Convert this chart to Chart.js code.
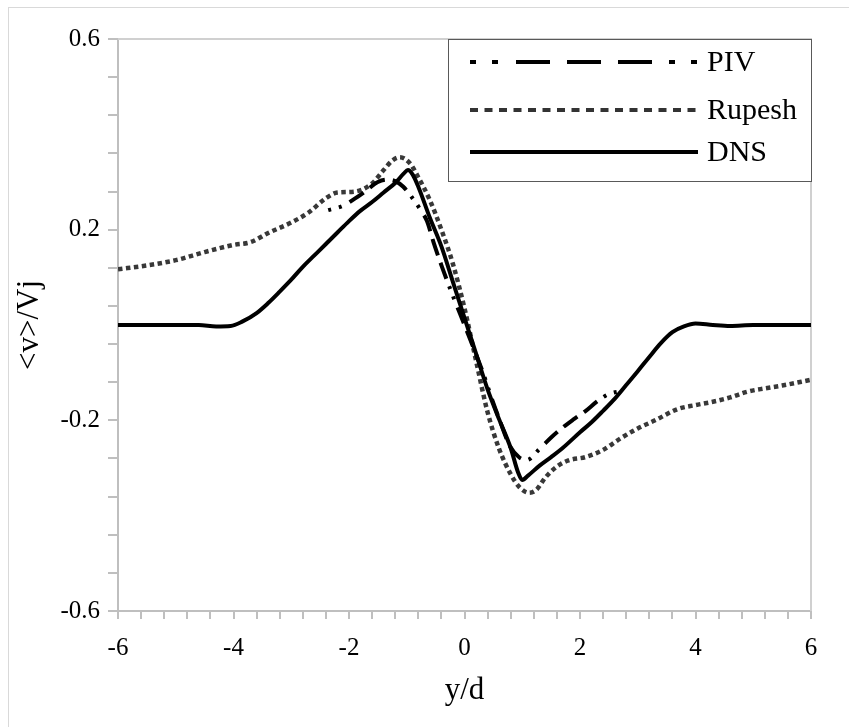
<!DOCTYPE html>
<html>
<head>
<meta charset="utf-8">
<script src="https://cdn.jsdelivr.net/npm/chart.js@4/dist/chart.umd.min.js"></script>
<style>
html, body { margin: 0; padding: 0; background: #fff; }
#wrap { width: 849px; height: 727px; }
</style>
</head>
<body>
<div id="wrap"><canvas id="profileChart" width="849" height="727"></canvas></div>
<script>
// values
const dnsX = [-6, -5, -4.6, -4.3, -4.05, -3.85, -3.6, -3.4, -3.2, -3.0, -2.8, -2.6, -2.4, -2.2, -2.0, -1.8, -1.6, -1.4, -1.2, -1.05,
    -0.98, -0.9, -0.8, -0.6, -0.4, -0.2, 0, 0.2, 0.4, 0.6, 0.8, 0.93, 1.0, 1.1, 1.3, 1.5, 1.7, 2.0, 2.2, 2.4,
    2.6, 2.8, 3.0, 3.2, 3.4, 3.6, 3.8, 4.0, 4.3, 4.6, 5, 6];
const dnsY = [0, 0, 0, -0.003, -0.002, 0.007, 0.025, 0.046, 0.07, 0.095, 0.122, 0.146, 0.17, 0.194, 0.218, 0.24, 0.258, 0.278, 0.298, 0.318,
    0.325, 0.316, 0.29, 0.225, 0.165, 0.09, 0.015, -0.06, -0.135, -0.198, -0.258, -0.31, -0.325, -0.316, -0.295, -0.277, -0.258, -0.225, -0.204, -0.18,
    -0.155, -0.126, -0.097, -0.067, -0.038, -0.015, -0.003, 0.003, 0, -0.002, 0, 0];

const rupeshX = [-6, -5.5, -5, -4.5, -4, -3.7, -3.4, -3, -2.7, -2.4, -2.2, -1.9, -1.6, -1.4, -1.25, -1.12, -0.95, -0.8, -0.6, -0.4,
    -0.2, 0, 0.2, 0.4, 0.6, 0.8, 0.95, 1.12, 1.25, 1.4, 1.6, 1.8, 2.1, 2.4, 2.7, 3, 3.3, 3.7, 4, 4.3,
    4.6, 4.9, 5.2, 5.5, 6];
const rupeshY = [0.117, 0.125, 0.136, 0.153, 0.168, 0.174, 0.193, 0.215, 0.236, 0.266, 0.278, 0.28, 0.297, 0.325, 0.345, 0.352, 0.34, 0.31, 0.262, 0.2,
    0.128, 0.035, -0.075, -0.183, -0.26, -0.313, -0.34, -0.352, -0.345, -0.32, -0.297, -0.284, -0.277, -0.262, -0.238, -0.217, -0.2, -0.176, -0.168, -0.161,
    -0.152, -0.14, -0.133, -0.127, -0.115];

const pivX = [-2.36, -2.1, -1.9, -1.7, -1.5, -1.34, -1.2, -1.06, -0.9, -0.77, -0.65, -0.54, -0.39, -0.22, 0,
    0.15, 0.32, 0.48, 0.61, 0.79, 0.95, 1.08, 1.3, 1.5, 1.7, 1.9, 2.1, 2.3, 2.5, 2.74];
const pivY = [0.241, 0.25, 0.265, 0.282, 0.3, 0.305, 0.302, 0.29, 0.266, 0.243, 0.218, 0.175, 0.122, 0.067, 0,
    -0.046, -0.1, -0.157, -0.2, -0.255, -0.278, -0.283, -0.26, -0.236, -0.215, -0.197, -0.18, -0.16, -0.145, -0.138];

const xMajorTicks = [-6, -4, -2, 0, 2, 4, 6];
const yMajorTicks = [-0.6, -0.2, 0.2, 0.6];

const axisGray = '#bfbfbf';
const serif = 'Liberation Serif';

const toPoints = (xs, ys) => xs.map((x, i) => ({ x: x, y: ys[i] }));

// 5 minor steps between each pair of major ticks
function minorTicks(majors) {
    const out = [];
    for (let i = 0; i < majors.length - 1; i++) {
        const step = (majors[i + 1] - majors[i]) / 5;
        for (let k = 0; k < 5; k++) out.push({ value: majors[i] + k * step, major: k === 0 });
    }
    out.push({ value: majors[majors.length - 1], major: true });
    return out;
}

const legendItems = [
    { label: 'PIV', dash: [6, 16, 6, 18, 34, 17, 34, 17, 34, 17], color: '#000', width: 4 },
    { label: 'Rupesh', dash: [8, 6.5], color: '#333', width: 4 },
    { label: 'DNS', dash: [], color: '#000', width: 4 }
];

const framePlugin = {
    id: 'frame',
    beforeDraw(chart) {
        const ctx = chart.ctx;
        ctx.save();
        ctx.fillStyle = '#fff';
        ctx.fillRect(0, 0, chart.width, chart.height);
        ctx.strokeStyle = '#d9d9d9';
        ctx.lineWidth = 1;
        ctx.strokeRect(8.5, 7.5, 900, 800);
        ctx.restore();
    },
    beforeDatasetsDraw(chart) {
        const { left, top, right, bottom } = chart.chartArea;
        const ctx = chart.ctx;
        ctx.save();
        ctx.strokeStyle = '#d0d0d0';
        ctx.lineWidth = 2;
        ctx.beginPath();
        ctx.moveTo(left, top);
        ctx.lineTo(right, top);
        ctx.lineTo(right, bottom);
        ctx.stroke();
        ctx.restore();
    },
    afterDraw(chart) {
        const ctx = chart.ctx;
        const box = { x: 448, y: 39, w: 363, h: 142 };
        ctx.save();
        ctx.fillStyle = '#fff';
        ctx.fillRect(box.x, box.y, box.w, box.h);
        ctx.strokeStyle = '#595959';
        ctx.lineWidth = 1;
        ctx.strokeRect(box.x + 0.5, box.y + 0.5, box.w, box.h);
        const rows = [62, 110, 152];
        ctx.font = '30px "' + serif + '"';
        ctx.textBaseline = 'middle';
        ctx.textAlign = 'left';
        legendItems.forEach((item, i) => {
            ctx.beginPath();
            ctx.setLineDash(item.dash);
            ctx.strokeStyle = item.color;
            ctx.lineWidth = item.width;
            ctx.lineCap = 'butt';
            ctx.moveTo(470, rows[i]);
            ctx.lineTo(698, rows[i]);
            ctx.stroke();
            ctx.setLineDash([]);
            ctx.fillStyle = '#000';
            ctx.fillText(item.label, 707, rows[i] + 1);
        });
        ctx.restore();
    }
};

const tickFont = { family: serif, size: 25 };

new Chart(document.getElementById('profileChart').getContext('2d'), {
    type: 'scatter',
    data: {
        datasets: [
            {
                label: 'DNS',
                data: toPoints(dnsX, dnsY),
                showLine: true,
                borderColor: '#000',
                borderWidth: 4,
                pointRadius: 0,
                cubicInterpolationMode: 'monotone',
                order: 1
            },
            {
                label: 'PIV',
                data: toPoints(pivX, pivY),
                showLine: true,
                borderColor: '#000',
                borderWidth: 4,
                borderDash: [3, 8, 3, 9, 17, 8, 17, 8, 17, 8],
                pointRadius: 0,
                cubicInterpolationMode: 'monotone',
                order: 2
            },
            {
                label: 'Rupesh',
                data: toPoints(rupeshX, rupeshY),
                showLine: true,
                borderColor: '#383838',
                borderWidth: 4.5,
                borderDash: [4.5, 3.5],
                pointRadius: 0,
                cubicInterpolationMode: 'monotone',
                order: 3
            }
        ]
    },
    options: {
        responsive: false,
        animation: false,
        devicePixelRatio: 1,
        layout: { padding: { left: 0, top: 39, right: 38, bottom: 0 } },
        plugins: {
            legend: { display: false },
            tooltip: { enabled: false }
        },
        scales: {
            x: {
                type: 'linear',
                min: -6,
                max: 6,
                afterBuildTicks: scale => { scale.ticks = minorTicks(xMajorTicks); },
                afterFit: scale => { scale.height = 116; },
                border: { display: true, color: axisGray, width: 2 },
                grid: { drawOnChartArea: false, drawTicks: true, tickLength: 8, color: axisGray, lineWidth: 2 },
                ticks: {
                    autoSkip: false,
                    maxRotation: 0,
                    padding: 14,
                    color: '#000',
                    font: tickFont,
                    callback: (v, i, ticks) => ticks[i].major ? String(Math.round(v)) : ''
                },
                title: {
                    display: true,
                    text: 'y/d',
                    color: '#000',
                    font: { family: serif, size: 31 },
                    padding: { top: 0, bottom: 18 }
                }
            },
            y: {
                type: 'linear',
                min: -0.6,
                max: 0.6,
                afterBuildTicks: scale => { scale.ticks = minorTicks(yMajorTicks); },
                afterFit: scale => { scale.width = 118; },
                border: { display: true, color: axisGray, width: 2 },
                grid: { drawOnChartArea: false, drawTicks: true, tickLength: 10, color: axisGray, lineWidth: 2 },
                ticks: {
                    autoSkip: false,
                    padding: 8,
                    color: '#000',
                    font: tickFont,
                    callback: (v, i, ticks) => ticks[i].major ? v.toFixed(1) : ''
                },
                title: {
                    display: true,
                    text: '<v>/Vj',
                    color: '#000',
                    font: { family: serif, size: 31 },
                    padding: { top: 11, bottom: 0 }
                }
            }
        }
    },
    plugins: [framePlugin]
});
</script>
</body>
</html>
